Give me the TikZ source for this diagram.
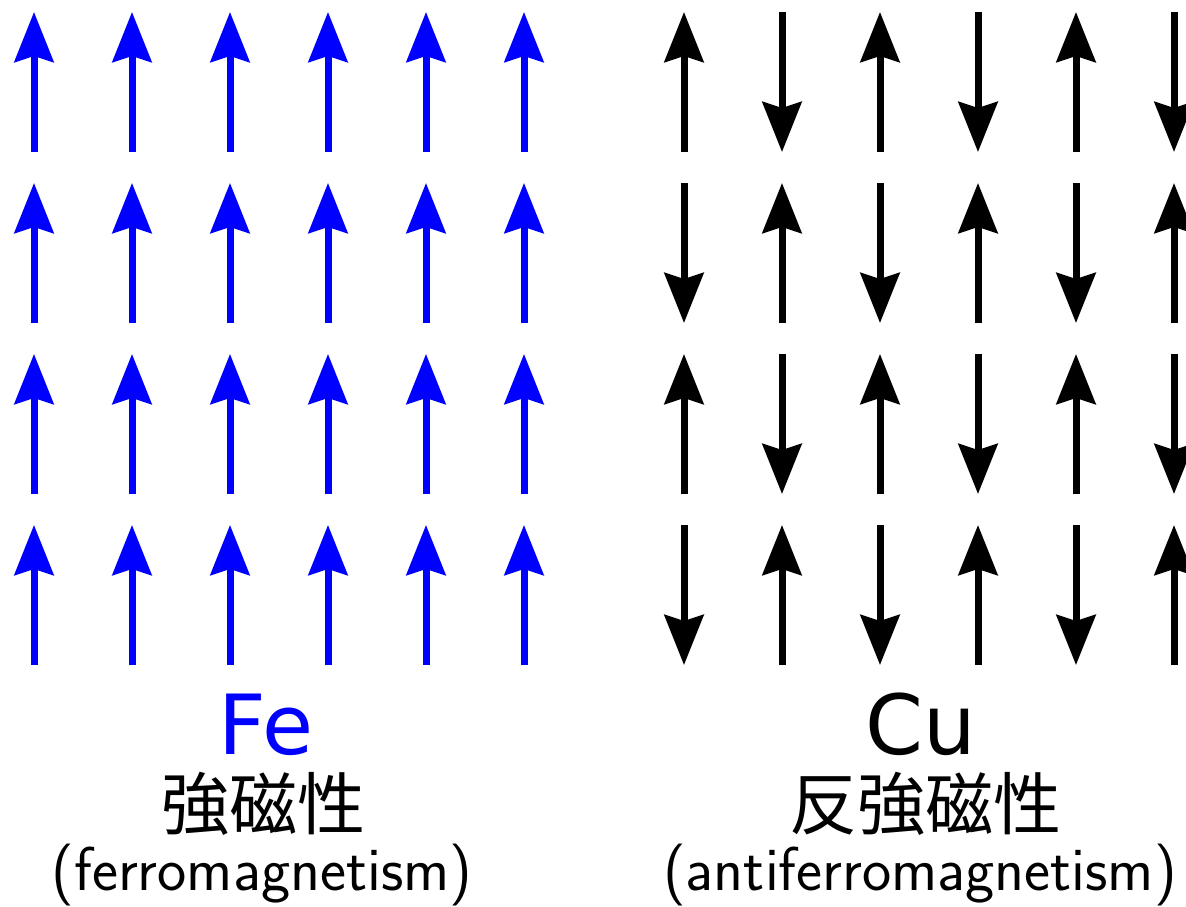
\documentclass[tikz,border=0pt]{standalone}
\usepackage{fontspec}
\newfontfamily\cjk{Noto Sans CJK JP}
\newfontfamily\elemfont{DejaVu Sans}
\usetikzlibrary{arrows.meta}
\definecolor{feblue}{RGB}{0,0,255}
\begin{document}
\begin{tikzpicture}[x=1pt,y=-1pt,
  spin/.style={line width=7pt,-{Stealth[length=50pt,width=39pt,inset=6pt]}},
  elem/.style={inner sep=0pt,anchor=base,font=\elemfont\fontsize{83}{83}\selectfont},
  jp/.style={inner sep=0pt,anchor=center,font=\cjk\fontsize{68}{68}\selectfont},
  en/.style={inner sep=0pt,anchor=base,font=\sffamily\fontsize{62}{62}\selectfont}]
\useasboundingbox (0,0) rectangle (1186,907);
\clip (0,0) rectangle (1186,907);
% ferromagnetic (Fe)
\foreach \i in {0,...,5}{
  \foreach \j in {0,...,3}{
    \coordinate (ft\i\j) at ({34+98*\i},{12+171*\j});
    \coordinate (fb\i\j) at ({34+98*\i},{152+171*\j});
    \draw[spin,feblue] (fb\i\j) -- (ft\i\j);
  }
}
% antiferromagnetic (Cu)
\foreach \i in {0,...,5}{
  \foreach \j in {0,...,3}{
    \coordinate (at\i\j) at ({684+98*\i},{12+171*\j});
    \coordinate (ab\i\j) at ({684+98*\i},{152+171*\j});
    \pgfmathtruncatemacro{\spinpar}{mod(\i+\j,2)}
    \ifnum\spinpar=0
      \draw[spin,black] (ab\i\j) -- (at\i\j);
    \else
      \draw[spin,black] (at\i\j) -- (ab\i\j);
    \fi
  }
}
\node[elem,text=feblue] (fe) at (266,754) {Fe};
\node[jp] (fejp) at (263,804) {強磁性};
\node[en] (feen) at (262,890) {(ferromagnetism)};
\node[elem] (cu) at (921,754) {Cu};
\node[jp] (cujp) at (925,804) {反強磁性};
\node[en] (cuen) at (920,890) {(antiferromagnetism)};
\end{tikzpicture}
\end{document}
